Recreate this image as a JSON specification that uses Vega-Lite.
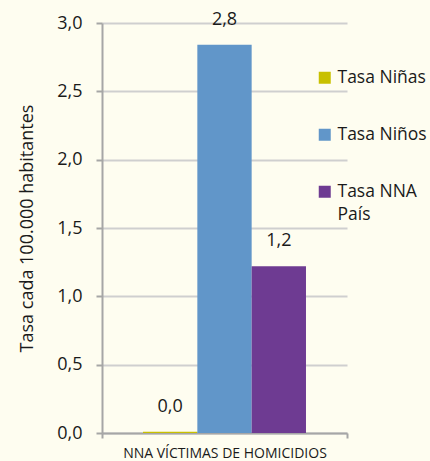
{
  "$schema": "https://vega.github.io/schema/vega-lite/v6.json",
  "autosize": "none",
  "width": 245,
  "height": 410,
  "padding": {"left": 102, "top": 23, "right": 83, "bottom": 28},
  "background": "#fefdf0",
  "data": {
    "values": [
      {"categoria": "NNA VÍCTIMAS DE HOMICIDIOS", "serie": "Tasa Niñas", "tasa": 0.01},
      {"categoria": "NNA VÍCTIMAS DE HOMICIDIOS", "serie": "Tasa Niños", "tasa": 2.84},
      {"categoria": "NNA VÍCTIMAS DE HOMICIDIOS", "serie": "Tasa NNA País", "tasa": 1.22}
    ]
  },
  "encoding": {
    "x": {
      "field": "categoria",
      "type": "nominal",
      "title": null,
      "scale": {"paddingInner": 0, "paddingOuter": 0},
      "axis": {
        "labelAngle": 0,
        "labelFont": "Open Sans",
        "labelFontSize": 14,
        "labelColor": "#1a1a1a",
        "labelPadding": 8,
        "labelLimit": 0,
        "tickBand": "extent",
        "tickSize": 5,
        "tickWidth": 2,
        "tickColor": "#a6a6a6",
        "domainColor": "#a6a6a6",
        "domainWidth": 2,
        "grid": false
      }
    },
    "xOffset": {
      "field": "serie",
      "type": "nominal",
      "sort": ["Tasa Niñas", "Tasa Niños", "Tasa NNA País"],
      "scale": {"paddingInner": 0, "paddingOuter": 0.755}
    },
    "y": {
      "field": "tasa",
      "type": "quantitative",
      "title": "Tasa cada 100.000 habitantes",
      "scale": {"domain": [0, 3], "nice": false},
      "axis": {
        "values": [0, 0.5, 1, 1.5, 2, 2.5, 3],
        "format": ".1f",
        "labelFont": "Open Sans",
        "labelFontSize": 18,
        "labelColor": "#1a1a1a",
        "labelPadding": 14,
        "tickSize": 6,
        "tickWidth": 2,
        "tickColor": "#a6a6a6",
        "domainColor": "#a6a6a6",
        "domainWidth": 2,
        "gridColor": "#cfcfcf",
        "gridWidth": 2,
        "titleFont": "Open Sans",
        "titleFontSize": 18,
        "titleFontWeight": "normal",
        "titleColor": "#1a1a1a",
        "titlePadding": 20
      }
    }
  },
  "layer": [
    {
      "mark": {"type": "bar"},
      "encoding": {
        "color": {
          "field": "serie",
          "type": "nominal",
          "sort": ["Tasa Niñas", "Tasa Niños", "Tasa NNA País"],
          "scale": {"domain": ["Tasa Niñas", "Tasa Niños", "Tasa NNA País"], "range": ["#c8c000", "#6196c9", "#6e3b92"]},
          "legend": {
            "title": null,
            "orient": "none",
            "legendX": 214,
            "legendY": 46,
            "padding": 0,
            "symbolType": "square",
            "symbolSize": 144,
            "symbolStrokeWidth": 0,
            "labelFont": "Open Sans",
            "labelFontSize": 17.5,
            "labelColor": "#1a1a1a",
            "labelOffset": 4,
            "labelLimit": 0,
            "rowPadding": 38,
            "labelExpr": "datum.label == 'Tasa NNA País' ? ['Tasa NNA', 'País'] : datum.label"
          }
        }
      }
    },
    {
      "mark": {"type": "text", "font": "Open Sans", "fontSize": 18, "color": "#1a1a1a", "baseline": "middle", "dy": -25},
      "encoding": {
        "text": {"field": "tasa", "type": "quantitative", "format": ".1f"}
      }
    }
  ],
  "config": {
    "locale": {"number": {"decimal": ",", "thousands": ".", "grouping": [3], "currency": ["$", ""]}},
    "view": {"stroke": null},
    "style": {"guide-label": {"lineHeight": 23}}
  }
}
